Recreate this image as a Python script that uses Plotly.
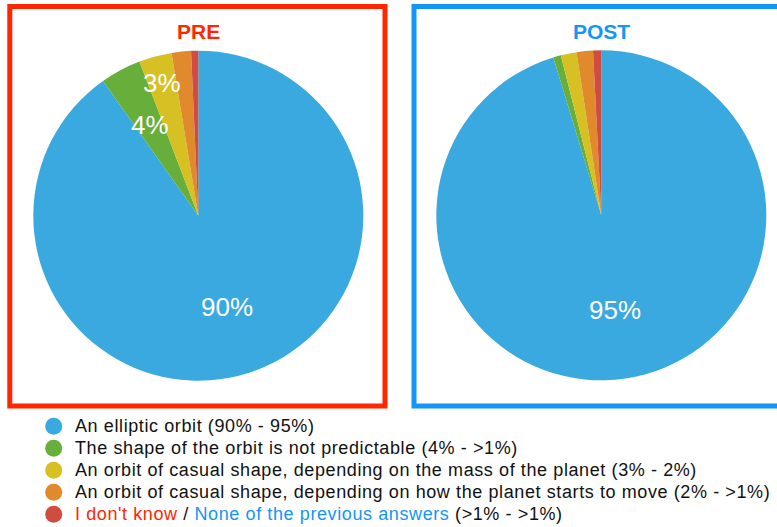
import math
import plotly.graph_objects as go

W, H = 777, 527

# ---------------- data ----------------
categories = [
    "An elliptic orbit",
    "The shape of the orbit is not predictable",
    "An orbit of casual shape, depending on the mass of the planet",
    "An orbit of casual shape, depending on how the planet starts to move",
    "I don't know / None of the previous answers",
]
pre_values = [90.2, 4.0, 3.2, 1.9, 0.7]
post_values = [95.3, 0.75, 1.55, 1.6, 0.8]
pre_labels = ["90%", "4%", "3%", "", ""]
post_labels = ["95%", "", "", "", ""]
legend_ranges = ["(90% - 95%)", "(4% - >1%)", "(3% - 2%)", "(2% - >1%)", "(>1% - >1%)"]
panel_titles = ["PRE", "POST"]

# ---------------- style ----------------
slice_colors = ["#3AA9DF", "#67AE3A", "#D6C023", "#E0892D", "#D04B40"]
RED = "#FF2600"
BLUE = "#1495F8"
FONT = "Liberation Sans, Arial, Helvetica, sans-serif"
TEXT_COLOR = "#111111"
LEGEND_SPACING = "letter-spacing:0.6px"

# pie geometry in pixels (centre x, centre y, radius)
pies = [
    dict(cx=198.3, cy=215.7, r=165.0),
    dict(cx=601.3, cy=215.3, r=165.0),
]
# radial position of the in-slice labels (fraction of radius)
pre_label_r = [0.58, 0.625, 0.835, 0.6, 0.6]
post_label_r = [0.58, 0.6, 0.6, 0.6, 0.6]


def px_x(x):
    return x / W


def px_y(y):
    return 1 - y / H


fig = go.Figure()

annotations = []
for values, labels, lab_r, geo in [
    (pre_values, pre_labels, pre_label_r, pies[0]),
    (post_values, post_labels, post_label_r, pies[1]),
]:
    cx, cy, r = geo["cx"], geo["cy"], geo["r"]
    fig.add_trace(
        go.Pie(
            labels=categories,
            values=values,
            sort=False,
            direction="clockwise",
            rotation=0,
            marker=dict(colors=slice_colors, line=dict(width=0)),
            textinfo="none",
            hoverinfo="skip",
            showlegend=False,
            domain=dict(x=[px_x(cx - r), px_x(cx + r)], y=[px_y(cy + r), px_y(cy - r)]),
        )
    )
    total = sum(values)
    cum = 0.0
    for v, lab, rf in zip(values, labels, lab_r):
        mid = (cum + v / 2) / total * 2 * math.pi
        cum += v
        if not lab:
            continue
        x = cx + rf * r * math.sin(mid)
        y = cy - rf * r * math.cos(mid)
        annotations.append(
            dict(
                x=px_x(x), y=px_y(y), xref="paper", yref="paper",
                text=lab, showarrow=False, xanchor="center", yanchor="middle",
                font=dict(family=FONT, size=26, color="white"),
            )
        )

# panel titles
for title, geo, col in zip(panel_titles, pies, [RED, BLUE]):
    annotations.append(
        dict(
            x=px_x(geo["cx"]), y=px_y(32), xref="paper", yref="paper",
            text="<b>%s</b>" % title, showarrow=False,
            xanchor="center", yanchor="middle",
            font=dict(family=FONT, size=21, color=col),
        )
    )

# frames
shapes = [
    dict(type="rect", xref="paper", yref="paper",
         x0=px_x(9.8), x1=px_x(385), y0=px_y(406), y1=px_y(6.5),
         line=dict(color=RED, width=5), fillcolor="rgba(0,0,0,0)", layer="below"),
    dict(type="rect", xref="paper", yref="paper",
         x0=px_x(414), x1=px_x(800), y0=px_y(406), y1=px_y(6.5),
         line=dict(color=BLUE, width=5), fillcolor="rgba(0,0,0,0)", layer="below"),
]

# legend (custom): markers on an overlay axis, one row per category
row0_px, row_pitch = 426.3, 22.0
span = -H / row_pitch
r1 = row0_px * span / H
r0 = r1 - span
rows = list(range(len(categories)))
fig.add_trace(
    go.Scatter(
        x=[53.7] * len(categories), y=rows, mode="markers",
        marker=dict(size=17, color=slice_colors, line=dict(width=0)),
        xaxis="x", yaxis="y", showlegend=False, hoverinfo="skip",
    )
)

for i, (cat, rng) in enumerate(zip(categories, legend_ranges)):
    if " / " in cat:
        a, b = cat.split(" / ")
        txt = ('<span style="%s;color:%s">%s</span><span style="%s"> / </span>'
               '<span style="%s;color:%s">%s</span><span style="%s"> %s</span>'
               % (LEGEND_SPACING, RED, a, LEGEND_SPACING, LEGEND_SPACING, BLUE, b,
                  LEGEND_SPACING, rng))
    else:
        txt = '<span style="%s">%s %s</span>' % (LEGEND_SPACING, cat, rng)
    annotations.append(
        dict(
            x=73.0, y=i, xref="x", yref="y", text=txt, showarrow=False,
            xanchor="left", yanchor="middle",
            font=dict(family=FONT, size=18, color=TEXT_COLOR),
        )
    )

fig.update_layout(
    width=W, height=H,
    margin=dict(l=0, r=0, t=0, b=0),
    paper_bgcolor="white", plot_bgcolor="rgba(0,0,0,0)",
    xaxis=dict(range=[0, W], domain=[0, 1], visible=False, fixedrange=True),
    yaxis=dict(range=[r0, r1], domain=[0, 1], visible=False, fixedrange=True),
    annotations=annotations,
    shapes=shapes,
    showlegend=False,
)

fig.write_html(
    "out.html",
    config={"displayModeBar": False},
    post_script="document.body.style.margin='0';document.body.style.overflow='hidden';",
)
